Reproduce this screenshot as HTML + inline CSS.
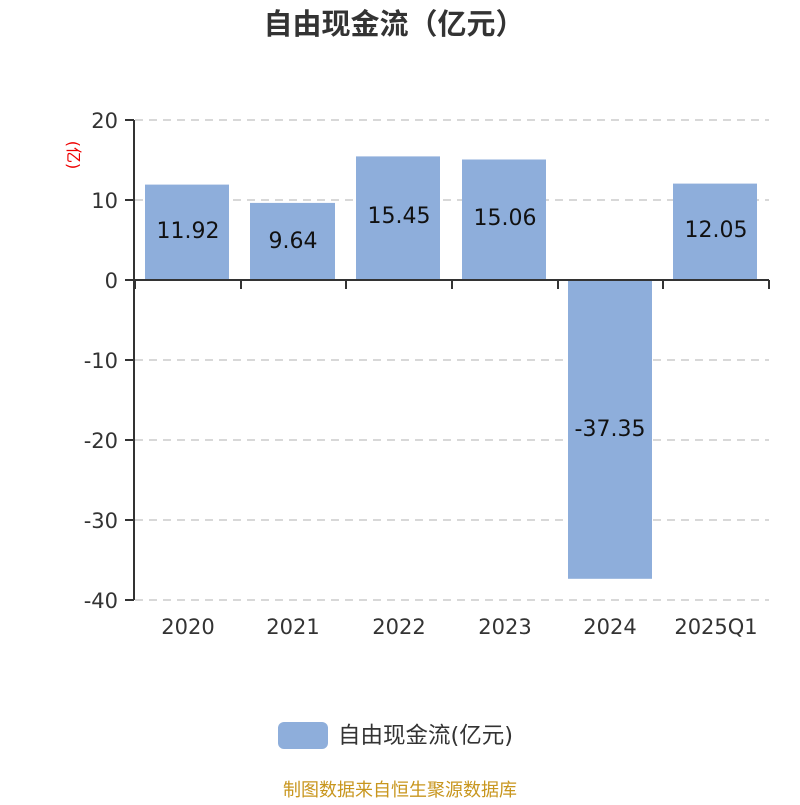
<!DOCTYPE html>
<html><head><meta charset="utf-8"><style>body{margin:0;background:#fff}</style></head><body>
<svg width="800" height="800" xmlns="http://www.w3.org/2000/svg" style="font-family:'DejaVu Sans','Noto Sans CJK SC',sans-serif">
<text x="394" y="34" text-anchor="middle" font-size="29" font-weight="bold" fill="#333" font-family="'Noto Sans CJK SC',sans-serif">自由现金流（亿元）</text>
<g stroke="#ccc" stroke-dasharray="8,6" stroke-width="1.5">
<line x1="135" x2="769" y1="120" y2="120"/><line x1="135" x2="769" y1="200" y2="200"/>
<line x1="135" x2="769" y1="360" y2="360"/><line x1="135" x2="769" y1="440" y2="440"/>
<line x1="135" x2="769" y1="520" y2="520"/><line x1="135" x2="769" y1="600" y2="600"/>
</g>
<g fill="#8eaedb">
<rect x="145" y="184.6" width="84" height="95.4"/>
<rect x="250" y="202.9" width="85" height="77.1"/>
<rect x="356" y="156.4" width="84" height="123.6"/>
<rect x="462" y="159.5" width="84" height="120.5"/>
<rect x="568" y="280" width="84" height="298.8"/>
<rect x="673" y="183.6" width="84" height="96.4"/>
</g>
<g stroke="#333" stroke-width="2">
<line x1="134" y1="120" x2="134" y2="600"/>
<line x1="125" y1="120" x2="134" y2="120"/><line x1="125" y1="200" x2="134" y2="200"/>
<line x1="125" y1="280" x2="134" y2="280"/><line x1="125" y1="360" x2="134" y2="360"/>
<line x1="125" y1="440" x2="134" y2="440"/><line x1="125" y1="520" x2="134" y2="520"/>
<line x1="125" y1="600" x2="134" y2="600"/>
<line x1="134" y1="280" x2="769" y2="280"/>
<line x1="135" y1="280" x2="135" y2="289"/><line x1="241" y1="280" x2="241" y2="289"/>
<line x1="346" y1="280" x2="346" y2="289"/><line x1="452" y1="280" x2="452" y2="289"/>
<line x1="558" y1="280" x2="558" y2="289"/><line x1="663" y1="280" x2="663" y2="289"/>
<line x1="769" y1="280" x2="769" y2="289"/>
</g>
<g font-size="21" fill="#333" text-anchor="end">
<text x="118" y="128">20</text><text x="118" y="208">10</text><text x="118" y="288">0</text>
<text x="118" y="368">-10</text><text x="118" y="448">-20</text><text x="118" y="528">-30</text><text x="118" y="608">-40</text>
</g>
<text transform="translate(68,155) rotate(90)" text-anchor="middle" font-size="16" fill="#e00">(亿)</text>
<g font-size="21" fill="#333" text-anchor="middle">
<text x="188" y="634">2020</text><text x="293" y="634">2021</text><text x="399" y="634">2022</text>
<text x="505" y="634">2023</text><text x="610" y="634">2024</text><text x="716" y="634">2025Q1</text>
</g>
<g font-size="22" fill="#111" text-anchor="middle">
<text x="188" y="238">11.92</text><text x="293" y="248">9.64</text><text x="399" y="223">15.45</text>
<text x="505" y="225">15.06</text><text x="610" y="436">-37.35</text><text x="716" y="237">12.05</text>
</g>
<rect x="278" y="722" width="50" height="27" rx="6" fill="#8eaedb"/>
<text x="338" y="743" font-size="22.5" fill="#333">自由现金流(亿元)</text>
<text x="400" y="796" text-anchor="middle" font-size="18" fill="#c8961e">制图数据来自恒生聚源数据库</text>
</svg>
</body></html>
